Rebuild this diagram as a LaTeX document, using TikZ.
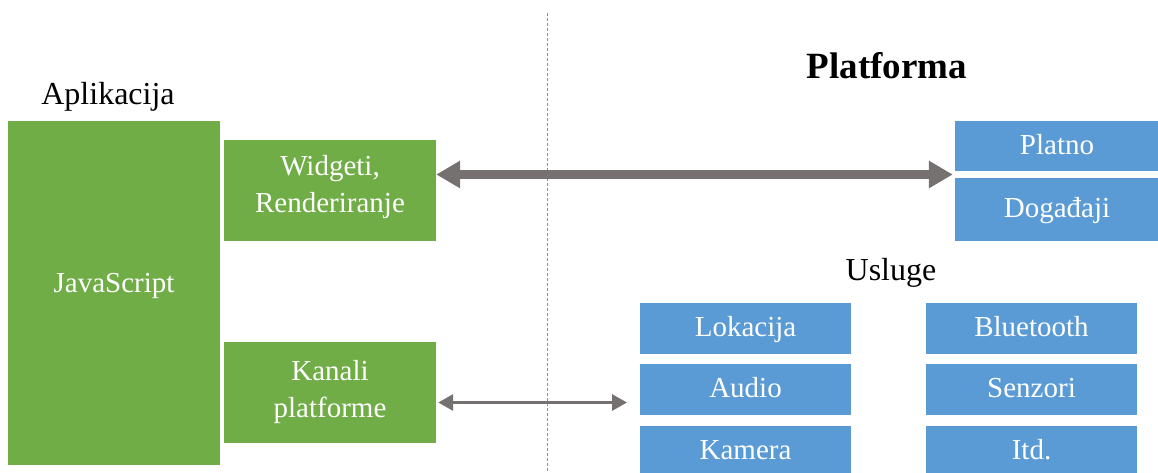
\documentclass[tikz,border=0pt]{standalone}
\usepackage{fontspec}
\setmainfont{Liberation Serif}
\usetikzlibrary{arrows.meta,calc}
\definecolor{appgreen}{HTML}{70AD47}
\definecolor{platblue}{HTML}{5B9BD5}
\definecolor{arrgray}{HTML}{767171}
\begin{document}
\begin{tikzpicture}[x=1pt,y=-1pt,
  gbox/.style={fill=appgreen,draw=none,text=white,inner sep=0pt,align=center,
    font=\fontsize{29}{37}\selectfont},
  bbox/.style={fill=platblue,draw=none,text=white,inner sep=0pt,align=center,
    font=\fontsize{29}{37}\selectfont,text height=22pt,text depth=6pt},
  lbl/.style={inner sep=0pt,font=\fontsize{32}{38}\selectfont},
]
\useasboundingbox (0,0) rectangle (1158,472);
\clip (0,0) rectangle (1158,472);
% divider
\draw[arrgray!80,dashed,line width=1pt,dash pattern=on 3pt off 2pt] (547,13) -- (547,472);
% application
\node[gbox,minimum width=212pt,minimum height=344pt,text height=20pt,text depth=22pt] (js) at (114,293) {JavaScript};
\node[gbox,minimum width=212pt,minimum height=101pt,text depth=14pt] (widget) at (330,190.5) {Widgeti,\\Renderiranje};
\node[gbox,minimum width=212pt,minimum height=101pt] (kanali) at (330,392.5) {Kanali\\platforme};
\node[lbl] (apl) at (108,97) {Aplikacija};
% platform
\node[lbl,font=\fontsize{37}{40}\selectfont\bfseries] (plat) at (887,66) {Platforma};
\node[bbox,minimum width=204pt,minimum height=50pt] (platno) at (1057,146) {Platno};
\node[bbox,minimum width=204pt,minimum height=63pt] (dog) at (1057,209.5) {Događaji};
\node[lbl] (usl) at (891,273) {Usluge};
\node[bbox,minimum width=211pt,minimum height=51pt] (lok) at (745.5,328) {Lokacija};
\node[bbox,minimum width=211pt,minimum height=51pt] (aud) at (745.5,389.5) {Audio};
\node[bbox,minimum width=211pt,minimum height=51pt] (kam) at (745.5,451.5) {Kamera};
\node[bbox,minimum width=211pt,minimum height=51pt] (blu) at (1031.5,328) {Bluetooth};
\node[bbox,minimum width=211pt,minimum height=51pt] (sen) at (1031.5,389.5) {Senzori};
\node[bbox,minimum width=211pt,minimum height=51pt] (itd) at (1031.5,451.5) {Itd.};
% connectors
\coordinate (pd) at ($(platno.south west)!0.5!(dog.north west)+(-2,0)$);
\draw[arrgray,line width=9pt,{Triangle[length=24pt,width=26pt]}-{Triangle[length=24pt,width=26pt]}]
  (widget.east |- pd) -- (pd);
\coordinate (srv) at (627,402.5);
\draw[arrgray,line width=3pt,{Triangle[length=15pt,width=16pt]}-{Triangle[length=15pt,width=16pt]}]
  ($(kanali.east |- srv)+(2,0)$) -- (srv);
\end{tikzpicture}
\end{document}
